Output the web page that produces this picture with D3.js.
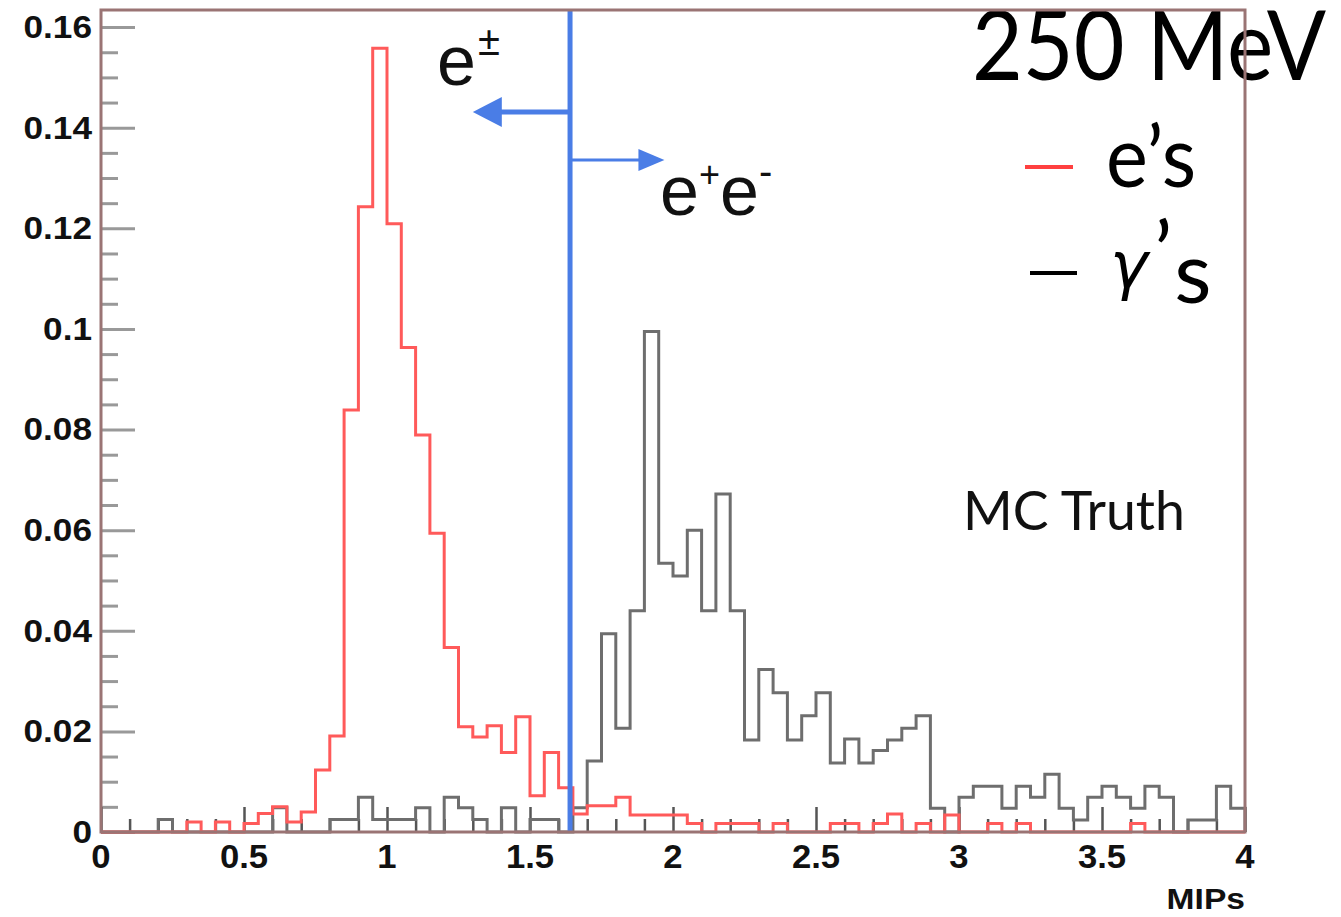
<!DOCTYPE html>
<html>
<head>
<meta charset="utf-8">
<script src="https://cdn.jsdelivr.net/npm/d3@7"></script>
<style>
  html, body { margin: 0; padding: 0; background: #fff; }
  svg { display: block; }
</style>
</head>
<body>
<div id="chart"></div>
<script>
// bin width 0.05 MIPs, 80 bins from 0 to 4
const binWidth = 0.05;
const electrons = [
  0, 0, 0, 0, 0, 0, 0.002, 0, 0.002, 0,
  0.0017, 0.0037, 0.005, 0.002, 0.004, 0.0123, 0.0191, 0.0839, 0.1243, 0.1558,
  0.1209, 0.0963, 0.0789, 0.0594, 0.0367, 0.0209, 0.0189, 0.0211, 0.0158, 0.0229,
  0.0072, 0.0158, 0.0088, 0.0036, 0.0052, 0.0052, 0.0069, 0.0034, 0.0034, 0.0034,
  0.0034, 0.0017, 0, 0.0017, 0.0017, 0.0017, 0, 0.0017, 0, 0,
  0, 0.0017, 0.0017, 0, 0.0017, 0.0036, 0, 0.0017, 0, 0.0034,
  0, 0, 0.0017, 0, 0.0017, 0, 0, 0, 0, 0,
  0, 0, 0.0017, 0, 0, 0, 0, 0, 0, 0
];
const photons = [
  0, 0, 0, 0, 0.0025, 0, 0, 0, 0, 0,
  0, 0, 0.0048, 0, 0, 0, 0.0025, 0.0025, 0.0069, 0.0025,
  0.0025, 0.0025, 0.0048, 0, 0.0069, 0.0048, 0.0025, 0, 0.0048, 0,
  0.0025, 0.0025, 0, 0.0048, 0.0141, 0.0394, 0.0206, 0.044, 0.0995, 0.0534,
  0.0509, 0.060, 0.044, 0.0672, 0.044, 0.0183, 0.0323, 0.0277, 0.0183, 0.0231,
  0.0277, 0.0137, 0.0185, 0.0137, 0.0162, 0.0183, 0.0206, 0.0231, 0.0047, 0,
  0.0069, 0.0091, 0.0091, 0.0047, 0.0091, 0.0069, 0.0115, 0.0047, 0.0024, 0.0069,
  0.0091, 0.0069, 0.0047, 0.0091, 0.0069, 0, 0.0024, 0.0024, 0.0091, 0.0047
];

const xTickValues = [0, 0.5, 1, 1.5, 2, 2.5, 3, 3.5, 4];
const xTickLabels = ["0", "0.5", "1", "1.5", "2", "2.5", "3", "3.5", "4"];
const yTickValues = [0, 0.02, 0.04, 0.06, 0.08, 0.1, 0.12, 0.14, 0.16];
const yTickLabels = ["0", "0.02", "0.04", "0.06", "0.08", "0.1", "0.12", "0.14", "0.16"];

const cutValue = 1.64;
const leftArrow = { tip: 1.30, level: 0.1431 };
const rightArrow = { tip: 1.97, level: 0.1336 };

function renderChart() {
    const width = 1341, height = 917;
    const margin = { top: 10, right: 96, bottom: 85, left: 101 };

    const svg = d3.select("#chart").append("svg")
        .attr("width", width)
        .attr("height", height);

    const x = d3.scaleLinear().domain([0, 4]).range([margin.left, width - margin.right]);
    const y = d3.scaleLinear().domain([0, 0.1634]).range([height - margin.bottom, margin.top]);

    const stepPoints = vals => {
        const pts = [[0, 0]];
        vals.forEach((v, i) => {
            pts.push([i * binWidth, v]);
            pts.push([(i + 1) * binWidth, v]);
        });
        pts.push([vals.length * binWidth, 0]);
        return pts;
    };
    const line = d3.line().x(d => x(d[0])).y(d => y(d[1]));

    // axis ticks (inward, ROOT style)
    const yMinor = d3.range(0, 0.1601, 0.005).filter(v => Math.abs(v / 0.02 - Math.round(v / 0.02)) > 1e-6);
    svg.append("g")
        .attr("transform", `translate(${margin.left},0)`)
        .call(d3.axisLeft(y).tickValues(yTickValues).tickSize(-34).tickFormat(""))
        .call(g => g.select(".domain").remove())
        .call(g => g.selectAll("line").attr("stroke", "#999").attr("stroke-width", 3));
    svg.append("g")
        .attr("transform", `translate(${margin.left},0)`)
        .call(d3.axisLeft(y).tickValues(yMinor).tickSize(-17).tickFormat(""))
        .call(g => g.select(".domain").remove())
        .call(g => g.selectAll("line").attr("stroke", "#999").attr("stroke-width", 3));

    const xMinor = d3.range(0.1, 3.95, 0.1).filter(v => Math.abs(v / 0.5 - Math.round(v / 0.5)) > 1e-6);
    svg.append("g")
        .attr("transform", `translate(0,${y(0)})`)
        .call(d3.axisBottom(x).tickValues(xTickValues).tickSize(-25).tickFormat(""))
        .call(g => g.select(".domain").remove())
        .call(g => g.selectAll("line").attr("stroke", "#555").attr("stroke-width", 2.5));
    svg.append("g")
        .attr("transform", `translate(0,${y(0)})`)
        .call(d3.axisBottom(x).tickValues(xMinor).tickSize(-13).tickFormat(""))
        .call(g => g.select(".domain").remove())
        .call(g => g.selectAll("line").attr("stroke", "#555").attr("stroke-width", 2.5));

    // histograms
    svg.append("path")
        .attr("d", line(stepPoints(photons)))
        .attr("fill", "none")
        .attr("stroke", "#6e6e6e")
        .attr("stroke-width", 3);
    svg.append("path")
        .attr("d", line(stepPoints(electrons)))
        .attr("fill", "none")
        .attr("stroke", "#ff5a5a")
        .attr("stroke-width", 3);

    // cut line and arrows
    const blue = "#4a7de6";
    svg.append("line")
        .attr("x1", x(cutValue)).attr("x2", x(cutValue))
        .attr("y1", y(0.1634)).attr("y2", y(0))
        .attr("stroke", blue).attr("stroke-width", 5);

    const lx = x(leftArrow.tip), ly = y(leftArrow.level);
    svg.append("line")
        .attr("x1", x(cutValue)).attr("x2", lx + 26)
        .attr("y1", ly).attr("y2", ly)
        .attr("stroke", blue).attr("stroke-width", 5);
    svg.append("path")
        .attr("d", `M${lx},${ly} L${lx + 29},${ly - 15} L${lx + 29},${ly + 15} Z`)
        .attr("fill", blue);

    const rx = x(rightArrow.tip), ry = y(rightArrow.level);
    svg.append("line")
        .attr("x1", x(cutValue)).attr("x2", rx - 22)
        .attr("y1", ry).attr("y2", ry)
        .attr("stroke", blue).attr("stroke-width", 3);
    svg.append("path")
        .attr("d", `M${rx},${ry} L${rx - 26},${ry - 11} L${rx - 26},${ry + 11} Z`)
        .attr("fill", blue);

    // annotation texts
    const sansA = "'Liberation Sans', Arial, sans-serif";
    const humanist = "Lato, 'Open Sans', sans-serif";

    const ePm = svg.append("text")
        .attr("x", 437).attr("y", 85)
        .attr("font-family", sansA).attr("font-size", 70).attr("fill", "#111");
    ePm.append("tspan").text("e");
    ePm.append("tspan").attr("font-size", 40).attr("dy", -30).attr("dx", 2).text("±");

    const ee = svg.append("text")
        .attr("x", 660).attr("y", 215)
        .attr("font-family", sansA).attr("font-size", 70).attr("fill", "#111");
    ee.append("tspan").text("e");
    ee.append("tspan").attr("font-size", 36).attr("dy", -28).text("+");
    ee.append("tspan").attr("dy", 28).text("e");
    ee.append("tspan").attr("font-size", 40).attr("dy", -30).text("-");

    svg.append("text")
        .attr("x", 963).attr("y", 530)
        .attr("font-family", humanist).attr("font-size", 55)
        .attr("textLength", 222).attr("lengthAdjust", "spacingAndGlyphs")
        .attr("fill", "#111").text("MC Truth");

    svg.append("text")
        .attr("x", 972).attr("y", 80)
        .attr("font-family", humanist).attr("font-size", 96)
        .attr("textLength", 354).attr("lengthAdjust", "spacingAndGlyphs")
        .attr("fill", "#000").text("250 MeV");

    // legend
    svg.append("line")
        .attr("x1", 1025).attr("x2", 1073).attr("y1", 167).attr("y2", 167)
        .attr("stroke", "#ff4040").attr("stroke-width", 4);
    svg.append("text")
        .attr("x", 1106).attr("y", 187)
        .attr("font-family", humanist).attr("font-size", 86)
        .attr("textLength", 90).attr("lengthAdjust", "spacingAndGlyphs")
        .attr("fill", "#000").text("e’s");
    svg.append("line")
        .attr("x1", 1030).attr("x2", 1077).attr("y1", 273).attr("y2", 273)
        .attr("stroke", "#000").attr("stroke-width", 4);
    const gs = svg.append("text")
        .attr("x", 1110).attr("y", 288)
        .attr("font-family", "'DejaVu Sans', sans-serif").attr("font-style", "oblique")
        .attr("font-size", 64).attr("fill", "#000");
    gs.append("tspan").text("γ");
    gs.append("tspan").attr("font-family", humanist).attr("font-style", "normal")
        .attr("font-size", 86).attr("dx", 6).attr("dy", -5).text("’");
    gs.append("tspan").attr("font-family", humanist).attr("font-style", "normal")
        .attr("font-size", 86).attr("dx", 2).attr("dy", 20).text("s");

    // frame
    svg.append("rect")
        .attr("x", x(0)).attr("y", y(0.1634))
        .attr("width", x(4) - x(0)).attr("height", y(0) - y(0.1634))
        .attr("fill", "none")
        .attr("stroke", "#9a7474").attr("stroke-width", 3);

    // tick labels
    const labelFont = "'Liberation Sans', Arial, Helvetica, sans-serif";
    svg.append("g").selectAll("text")
        .data(yTickValues)
        .join("text")
        .attr("transform", d => `translate(92,${y(d)}) scale(1.1,1)`)
        .attr("text-anchor", "end")
        .attr("dominant-baseline", "central")
        .attr("font-family", labelFont).attr("font-weight", "bold")
        .attr("font-size", 32).attr("fill", "#111")
        .text((d, i) => yTickLabels[i]);

    svg.append("g").selectAll("text")
        .data(xTickValues)
        .join("text")
        .attr("transform", d => `translate(${x(d)},${y(0) + 36}) scale(1.05,1)`)
        .attr("text-anchor", "middle")
        .attr("font-family", labelFont).attr("font-weight", "bold")
        .attr("font-size", 33).attr("fill", "#111")
        .text((d, i) => xTickLabels[i]);

    svg.append("text")
        .attr("transform", `translate(${x(4)},${height - 8}) scale(1.12,1)`)
        .attr("text-anchor", "end")
        .attr("font-family", labelFont).attr("font-weight", "bold")
        .attr("font-size", 30).attr("fill", "#111")
        .text("MIPs");
}

renderChart();
</script>
</body>
</html>
